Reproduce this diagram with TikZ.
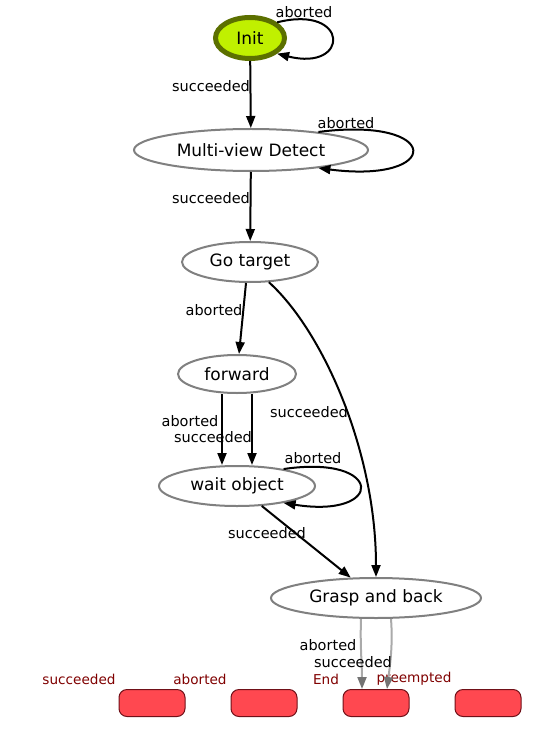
\documentclass[tikz,border=0pt]{standalone}
\usepackage{fontspec}
\setmainfont{DejaVu Sans}
\usetikzlibrary{arrows.meta, shapes.geometric}
\definecolor{initfill}{RGB}{192,240,0}
\definecolor{initdraw}{RGB}{92,112,0}
\definecolor{outfill}{RGB}{255,72,80}
\definecolor{outdraw}{RGB}{112,16,24}
\definecolor{outtext}{RGB}{128,0,0}
\definecolor{greyedge}{RGB}{170,170,170}
\definecolor{greytip}{RGB}{115,115,115}
\tikzset{state/.style={ellipse, draw=gray, line width=2pt, fill=white, inner sep=0pt, font=\fontsize{17}{20}\selectfont},
  edge/.style={line width=2pt, -{Triangle[length=12pt, width=9pt]}},
  greyed/.style={line width=2pt, draw=greyedge, -{Triangle[length=12pt, width=9pt, color=greytip]}},
  lbl/.style={inner sep=0pt, font=\fontsize{14.5}{17}\selectfont},
  outlbl/.style={inner sep=0pt, text=outtext, font=\fontsize{13.6}{16}\selectfont},
  outbox/.style={draw=outdraw, line width=1pt, fill=outfill, rounded corners=8pt, minimum width=66pt, minimum height=27pt}}

\begin{document}
\begin{tikzpicture}[x=1pt, y=-1pt]
  \useasboundingbox[fill=white] (0, 0) rectangle (551, 735);
  % states
  \node[state, draw=initdraw, fill=initfill, line width=5pt, minimum width=69pt, minimum height=41pt] (init) at (250, 38) {Init};
  \node[state, minimum width=234pt, minimum height=42pt] (detect) at (251, 150) {Multi-view Detect};
  \node[state, minimum width=136pt, minimum height=40pt] (gotarget) at (250, 262) {Go target};
  \node[state, minimum width=118pt, minimum height=38pt] (forward) at (237, 374) {forward};
  \node[state, minimum width=156pt, minimum height=40pt] (waitobj) at (237, 486) {wait object};
  \node[state, minimum width=210pt, minimum height=40pt] (grasp) at (376, 598) {Grasp and back};
  % outcomes
  \foreach \name/\x in {outsucc/152, outabort/264, outend/376, outpre/488} {
    \node[outbox] (\name) at (\x, 703) {};
  }
  \node[outlbl] (txtsucc) at (79, 679) {succeeded};
  \node[outlbl] (txtabort) at (200, 679) {aborted};
  \node[outlbl] (txtend) at (326, 679) {End};
  \node[outlbl] (txtpre) at (414, 679) {preempted};

  % transitions
  \draw[edge] (init.30) .. controls (350, 4) and (350, 72) .. (init.-30);
  \node[lbl] (l1) at (304, 12) {aborted};
  \draw[edge] (init) -- (detect);
  \node[lbl] (l2) at (211, 86) {succeeded};
  \draw[edge] (detect.15) .. controls (443, 116) and (443, 184) .. (detect.-15);
  \node[lbl] (l3) at (346, 123) {aborted};
  \draw[edge] (detect) -- (gotarget);
  \node[lbl] (l4) at (211, 198) {succeeded};
  \draw[edge] ([xshift=-4pt]gotarget.south) -- ([xshift=2pt]forward.north);
  \node[lbl] (l5) at (214, 310) {aborted};
  \draw[edge] (gotarget.-47) .. controls (322, 330) and (376, 450) .. (grasp.north);
  \node[lbl] (l6) at (309, 412) {succeeded};
  \draw[edge] ([xshift=-15pt]forward.south) -- ([xshift=-15pt]waitobj.north);
  \node[lbl] (l7) at (190, 421) {aborted};
  \draw[edge] ([xshift=15pt]forward.south) -- ([xshift=15pt]waitobj.north);
  \node[lbl] (l8) at (213, 437) {succeeded};
  \draw[edge] (waitobj.20) .. controls (385, 454) and (385, 519) .. (waitobj.-20);
  \node[lbl] (l9) at (313, 458) {aborted};
  \draw[edge] (waitobj) -- (grasp);
  \node[lbl] (l10) at (267, 533) {succeeded};
  \draw[greyed] ([xshift=-15pt]grasp.south) .. controls (360, 645) and (362, 665) .. ([xshift=-14pt]outend.north);
  \node[lbl] (l11) at (328, 645) {aborted};
  \draw[greyed] ([xshift=15pt]grasp.south) .. controls (393, 645) and (390, 665) .. ([xshift=11pt]outend.north);
  \node[lbl] (l12) at (353, 662) {succeeded};
\end{tikzpicture}
\end{document}
